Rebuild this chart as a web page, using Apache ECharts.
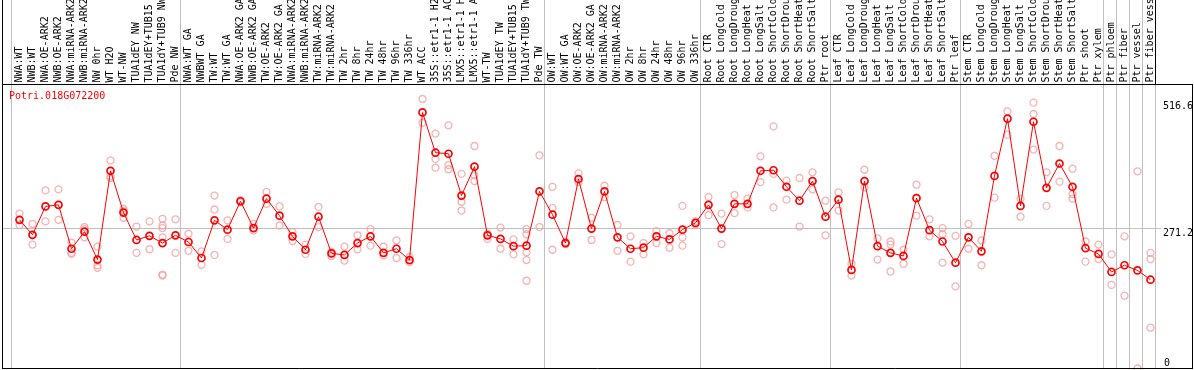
<!DOCTYPE html>
<html><head><meta charset="utf-8">
<script src="https://cdn.jsdelivr.net/npm/echarts@6/dist/echarts.min.js"></script>
<style>html,body{margin:0;padding:0;background:#fff}#c{width:1194px;height:370px}</style>
</head><body><div id="c"></div>
<script>
const geneName = 'Potri.018G072200';
const categories = [
 'NWA:WT','NWB:WT','NWA:OE-ARK2','NWB:OE-ARK2','NWA:miRNA-ARK2','NWB:miRNA-ARK2','NW 0hr','WT H2O','WT-NW','TUA1dEY NW','TUA1dEY+TUB15 NW','TUA1dY+TUB9 NW','Pde NW',
 'NWA:WT GA','NWBWT GA','TW:WT','TW:WT GA','NWA:OE-ARK2 GA','NWB:OE-ARK2 GA','TW:OE-ARK2','TW:OE-ARK2 GA','NWA:miRNA-ARK2','NWB:miRNA-ARK2','TW:miRNA-ARK2','TW:miRNA-ARK2',
 'TW 2hr','TW 8hr','TW 24hr','TW 48hr','TW 96hr','TW 336hr','WT ACC','35S::etr1-1 H2O','35S::etr1-1 ACC','LMX5::etr1-1 H2O','LMX5::etr1-1 ACC','WT-TW','TUA1dEY TW','TUA1dEY+TUB15 TW','TUA1dY+TUB9 TW','Pde TW',
 'OW:WT','OW:WT GA','OW:OE-ARK2','OW:OE-ARK2 GA','OW:miRNA-ARK2','OW:miRNA-ARK2','OW 2hr','OW 8hr','OW 24hr','OW 48hr','OW 96hr','OW 336hr',
 'Root CTR','Root LongCold','Root LongDrought','Root LongHeat','Root LongSalt','Root ShortCold','Root ShortDrought','Root ShortHeat','Root ShortSalt','Ptr root',
 'Leaf CTR','Leaf LongCold','Leaf LongDrought','Leaf LongHeat','Leaf LongSalt','Leaf ShortCold','Leaf ShortDrought','Leaf ShortHeat','Leaf ShortSalt','Ptr leaf',
 'Stem CTR','Stem LongCold','Stem LongDrought','Stem LongHeat','Stem LongSalt','Stem ShortCold','Stem ShortDrought','Stem ShortHeat','Stem ShortSalt','Ptr shoot','Ptr xylem',
 'Ptr phloem','Ptr fiber','Ptr vessel','Ptr fiber vessel'
];
const means = [
 288,259,314,317,232,265,211,383,302,249,257,243,258,
 245,214,287,269,324,272,329,296,256,230,294,223,220,243,256,224,232,210,496,418,416,335,391,258,251,237,238,343,
 298,243,367,271,343,254,232,234,256,250,269,282,
 317,271,319,319,383,384,352,325,363,294,
 327,191,363,237,224,218,330,268,246,205,
 254,227,373,484,315,478,350,397,352,233,222,
 187,200,190,172
];
const replicates = [
 [300,278],[280,240,258],[345,285],[347,288],[244,224,222],[274,254,270],[236,200,195],[403,372,369],[309,292,305],[275,224],[285,231],[290,277,272,254,182,180],[289,224],
 [261,228],[227,201],[335,308,220],[287,251],[326,322],[280,267],[342,319],[314,277],[264,247],[240,222],[313,274],[226,218],[236,209],[258,231],[270,238],[236,219],[248,214],[216,206],[522,476],[455,406,389],[471,394,386],[377,323,306],[431,374,363],[261,251],[273,232],[250,221],[270,260,225,210,170],[413,274],
 [352,311,230],[245,241],[378,361],[292,249],[354,332],[278,228],[256,207],[243,221],[266,243],[262,234],[315,254,238],[285,279],
 [332,297],[300,241],[336,301],[329,312],[411,361],[469,377,312],[364,327],[369,275],[380,347],[325,258],
 [341,306],[203,180],[385,351],[252,211],[246,240,188],[230,203],[356,296],[289,256],[272,260,205],[257,159],
 [280,232],[248,200],[412,331],[498,453],[329,294],[515,493,424],[380,315],[431,362],[387,338,329],[246,207],[240,212],
 [221,162],[256,141],[382,0],[224,212,79]
];
const groupEnds = [-1, 12, 40, 52, 62, 72, 83, 84, 85, 86, 87];
const yLabelValues = [271.2, 516.6];
const yZeroLabel = [0];
const refLineValue = 271.2;

const FONT = "'DejaVu Sans Mono','Liberation Mono',monospace";
const meanData = means.map((v, i) => [i, v]);
const repData = [];
replicates.forEach((arr, i) => arr.forEach(v => repData.push([i, v])));

const chart = echarts.init(document.getElementById('c'), null, {renderer: 'canvas'});
const yAxisBase = {
  type: 'value', min: 0, max: 713.8, position: 'right',
  axisLine: {show: false, onZero: false}, axisTick: {show: false}, splitLine: {show: false}
};
const lineGfx = (x1, y1, x2, y2) => ({type: 'line', z: 100, silent: true,
  shape: {x1, y1, x2, y2}, style: {stroke: '#000', lineWidth: 1}});

chart.setOption({
  animation: false,
  title: {text: geneName, left: 9, top: 91, padding: 0,
    textStyle: {color: '#ff0000', fontSize: 10, fontFamily: FONT, fontWeight: 'normal'}},
  grid: {left: 2, top: 0, right: 33, bottom: 1.5, containLabel: false, outerBoundsMode: 'none'},
  xAxis: {
    type: 'value', min: -1.3462, max: 87.808, position: 'top', offset: -84.5,
    axisLine: {show: false, onZero: false}, axisTick: {show: false}, splitLine: {show: false},
    axisLabel: {customValues: categories.map((_, i) => i), rotate: -90, margin: 2,
      fontSize: 10, fontFamily: FONT, color: '#000',
      formatter: v => categories[Math.round(v)] || ''}
  },
  yAxis: [
    Object.assign({}, yAxisBase, {axisLabel: {customValues: yLabelValues, margin: 2, verticalAlign: 'top',
      fontSize: 10, fontFamily: FONT, color: '#000', formatter: v => Number(v).toFixed(1)}}),
    Object.assign({}, yAxisBase, {axisLabel: {customValues: yZeroLabel, margin: 3, verticalAlign: 'bottom',
      fontSize: 10, fontFamily: FONT, color: '#000', formatter: v => String(v)}})
  ],
  series: [
    {
      type: 'scatter', name: 'replicates', data: repData, z: 3,
      symbol: 'circle', symbolSize: 7,
      itemStyle: {color: 'rgba(255,255,255,0)', borderColor: '#f2a0a0', borderWidth: 1.3},
      emphasis: {disabled: true}, silent: true,
      markLine: {
        silent: true, z: 1, symbol: ['none', 'none'], label: {show: false},
        emphasis: {disabled: true},
        lineStyle: {color: '#c0c0c0', width: 1, type: 'solid'},
        data: groupEnds.map(e => ({xAxis: e + 5 / 13})).concat([{yAxis: refLineValue}])
      }
    },
    {
      type: 'line', name: 'mean', data: meanData, z: 4,
      symbol: 'circle', symbolSize: 7, showAllSymbol: true,
      lineStyle: {color: '#ff0000', width: 1},
      itemStyle: {color: 'rgba(255,255,255,0)', borderColor: '#ff0000', borderWidth: 1.7},
      emphasis: {disabled: true}, silent: true
    }
  ],
  graphic: [
    lineGfx(2.5, 0, 2.5, 369),
    lineGfx(2, 368.5, 1193, 368.5),
    lineGfx(2, 84.5, 1193, 84.5),
    lineGfx(1192.5, 84.5, 1192.5, 369),
    lineGfx(1155.5, 0, 1155.5, 84.5)
  ]
});
</script></body></html>
